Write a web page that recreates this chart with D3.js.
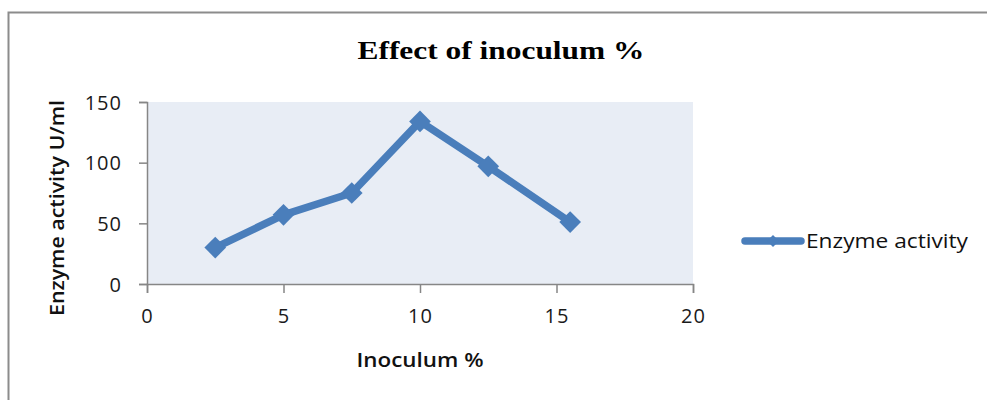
<!DOCTYPE html>
<html>
<head>
<meta charset="utf-8">
<script src="https://cdn.jsdelivr.net/npm/d3@7"></script>
<style>
  html, body { margin: 0; padding: 0; background: #fff; }
  svg { display: block; }
  .tick text { font-family: "Open Sans", "Liberation Sans", sans-serif; font-size: 20px; letter-spacing: 1px; fill: #1a1a1a; }
</style>
</head>
<body>
<svg id="chart" width="987" height="400"></svg>
<script>
// Inoculum percentage (x) and measured enzyme activity in U/ml (y)
const inoculum = [2.5, 5, 7.5, 10, 12.5, 15.5];
const activity = [30, 57, 75, 134, 97, 51];
const xTicks = [0, 5, 10, 15, 20];
const yTicks = [0, 50, 100, 150];
const seriesName = "Enzyme activity";
const chartTitle = "Effect of inoculum %";
const xTitle = "Inoculum %";
const yTitle = "Enzyme activity U/ml";

const svg = d3.select("#chart");
const blue = "#4a7ebb";

// outer chart frame (top and left edges visible)
svg.append("path")
  .attr("d", "M8.5,410 L8.5,12.5 L995,12.5")
  .attr("fill", "none").attr("stroke", "#8c8c8c").attr("stroke-width", 2);

const plot = { left: 147, right: 693, top: 102, bottom: 284 };

const x = d3.scaleLinear().domain([0, 20]).range([plot.left, plot.right]);
const y = d3.scaleLinear().domain([0, 150]).range([plot.bottom, plot.top]);

// plot area background
svg.append("rect")
  .attr("x", plot.left).attr("y", plot.top)
  .attr("width", plot.right - plot.left).attr("height", plot.bottom - plot.top)
  .attr("fill", "#e8edf5");

// axes
const xAxis = svg.append("g")
  .attr("transform", `translate(0,${plot.bottom})`)
  .call(d3.axisBottom(x).tickValues(xTicks).tickSize(9).tickPadding(16).tickFormat(d3.format("d")));
const yAxis = svg.append("g")
  .attr("transform", `translate(${plot.left},0)`)
  .call(d3.axisLeft(y).tickValues(yTicks).tickSize(8).tickPadding(17).tickFormat(d3.format("d")));
[xAxis, yAxis].forEach(g => {
  g.select(".domain").attr("stroke", "#868686").attr("stroke-width", 1.5);
  g.selectAll(".tick line").attr("stroke", "#868686").attr("stroke-width", 1.5);
});
xAxis.selectAll(".tick text").attr("dy", "0.71em");
yAxis.selectAll(".tick text").attr("dy", "0.36em");

// data line
const pts = inoculum.map((v, i) => [v, activity[i]]);
svg.append("path")
  .datum(pts)
  .attr("fill", "none")
  .attr("stroke", blue)
  .attr("stroke-width", 7.5)
  .attr("stroke-linejoin", "round")
  .attr("d", d3.line().x(d => x(d[0])).y(d => y(d[1])));

// diamond markers
const diamond = d3.symbol().type(d3.symbolDiamond2).size(300);
svg.append("g").selectAll("path")
  .data(pts).join("path")
  .attr("transform", d => `translate(${x(d[0])},${y(d[1])})`)
  .attr("d", diamond)
  .attr("fill", blue);

// title
svg.append("text")
  .attr("x", 501).attr("y", 59)
  .attr("text-anchor", "middle")
  .attr("font-family", "Liberation Serif, serif")
  .attr("font-weight", "bold")
  .attr("font-size", 26)
  .attr("textLength", 287).attr("lengthAdjust", "spacingAndGlyphs")
  .attr("fill", "#000")
  .text(chartTitle);

// axis titles
svg.append("text")
  .attr("x", 420).attr("y", 367)
  .attr("text-anchor", "middle")
  .attr("font-family", "Open Sans, Liberation Sans, sans-serif")
  .attr("font-weight", 600)
  .attr("font-size", 20)
  .attr("textLength", 127).attr("lengthAdjust", "spacingAndGlyphs")
  .attr("fill", "#111")
  .text(xTitle);

svg.append("text")
  .attr("transform", "translate(64,208) rotate(-90)")
  .attr("text-anchor", "middle")
  .attr("font-family", "Open Sans, Liberation Sans, sans-serif")
  .attr("font-weight", 600)
  .attr("font-size", 20)
  .attr("textLength", 216).attr("lengthAdjust", "spacingAndGlyphs")
  .attr("fill", "#111")
  .text(yTitle);

// legend
const lg = svg.append("g").attr("transform", "translate(0,241)");
lg.append("line")
  .attr("x1", 745).attr("x2", 801).attr("y1", 0).attr("y2", 0)
  .attr("stroke", blue).attr("stroke-width", 7.5).attr("stroke-linecap", "round");
lg.append("path")
  .attr("transform", "translate(773,0)")
  .attr("d", d3.symbol().type(d3.symbolDiamond2).size(90))
  .attr("fill", blue);
lg.append("text")
  .attr("x", 806).attr("y", 7)
  .attr("font-family", "Open Sans, Liberation Sans, sans-serif")
  .attr("font-size", 20)
  .attr("textLength", 162).attr("lengthAdjust", "spacingAndGlyphs")
  .attr("fill", "#111")
  .text(seriesName);
</script>
</body>
</html>
